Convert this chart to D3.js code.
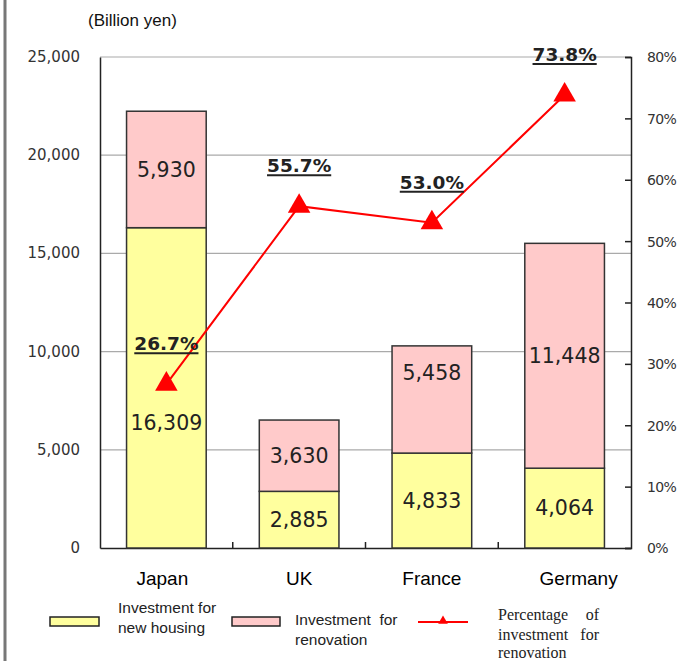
<!DOCTYPE html>
<html>
<head>
<meta charset="utf-8">
<script src="https://cdn.jsdelivr.net/npm/d3@7"></script>
<style>
    body { margin: 0; background: #fff; }
</style>
</head>
<body>
<div id="chart"></div>
<script>
const countries = ["Japan", "UK", "France", "Germany"];
const newHousing = [16309, 2885, 4833, 4064];
const renovation = [5930, 3630, 5458, 11448];
const renovationPct = [26.7, 55.7, 53.0, 73.8];
const leftTicks = [0, 5000, 10000, 15000, 20000, 25000];
const rightTicks = [0, 10, 20, 30, 40, 50, 60, 70, 80];

const width = 689, height = 661;
const margin = {top: 57, right: 58, bottom: 113, left: 100};
const innerW = width - margin.left - margin.right;
const innerH = height - margin.top - margin.bottom;
const gothic = "'DejaVu Sans', Verdana, sans-serif";
const serif = "'Liberation Serif', 'DejaVu Serif', serif";

const svg = d3.select("#chart").append("svg")
    .attr("width", width)
    .attr("height", height)
    .attr("font-family", "Arial, 'Liberation Sans', sans-serif");

// left frame line
svg.append("line")
    .attr("x1", 5).attr("x2", 5)
    .attr("y1", 0).attr("y2", height)
    .attr("stroke", "#777")
    .attr("stroke-width", 3);

const g = svg.append("g")
    .attr("transform", `translate(${margin.left},${margin.top})`);

const x = d3.scaleBand()
    .domain(countries)
    .range([0, innerW])
    .paddingInner(0.4)
    .paddingOuter(0.2);

const y = d3.scaleLinear()
    .domain([0, 25000])
    .range([innerH, 0]);

const yPct = d3.scaleLinear()
    .domain([0, 80])
    .range([innerH, 0]);

// gridlines
g.selectAll(".grid")
    .data(leftTicks.filter(d => d > 0))
    .enter().append("line")
    .attr("class", "grid")
    .attr("x1", 0).attr("x2", innerW)
    .attr("y1", d => y(d)).attr("y2", d => y(d))
    .attr("stroke", "#aaa")
    .attr("stroke-width", 1.2);

// left axis
const yAxis = g.append("g")
    .call(d3.axisLeft(y).tickValues(leftTicks).tickSize(0).tickPadding(20)
        .tickFormat(d3.format(",")));
yAxis.attr("font-family", gothic);
yAxis.select(".domain").attr("stroke", "#222").attr("stroke-width", 1.5);
yAxis.selectAll("text")
    .attr("font-size", 15)
    .attr("fill", "#333")
    .attr("dy", "0.3em");

// right axis
const rAxis = g.append("g")
    .attr("transform", `translate(${innerW},0)`)
    .call(d3.axisRight(yPct).tickValues(rightTicks).tickSize(-6).tickPadding(16)
        .tickFormat(d => d + "%"));
rAxis.attr("font-family", gothic);
rAxis.select(".domain").attr("stroke", "#222").attr("stroke-width", 1.5);
rAxis.selectAll(".tick line").attr("stroke", "#222").attr("stroke-width", 1.5);
rAxis.selectAll("text")
    .attr("font-size", 14)
    .attr("fill", "#333")
    .attr("dy", "0.35em")
    .attr("letter-spacing", "-0.6px");

// bottom axis
const xAxis = g.append("g")
    .attr("transform", `translate(0,${innerH})`)
    .call(d3.axisBottom(x).tickSize(0).tickFormat(""));
xAxis.select(".domain").attr("stroke", "#222").attr("stroke-width", 1.5);
const step = x.step();
g.selectAll(".cat-tick")
    .data(d3.range(1, countries.length))
    .enter().append("line")
    .attr("x1", d => d * step).attr("x2", d => d * step)
    .attr("y1", innerH).attr("y2", innerH - 6)
    .attr("stroke", "#222")
    .attr("stroke-width", 1.5);

// stacked bars
const stackData = countries.map((c, i) => ({country: c, newH: newHousing[i], renov: renovation[i]}));

g.selectAll(".bar-new")
    .data(stackData)
    .enter().append("rect")
    .attr("class", "bar-new")
    .attr("x", d => x(d.country))
    .attr("width", x.bandwidth())
    .attr("y", d => y(d.newH))
    .attr("height", d => y(0) - y(d.newH))
    .attr("fill", "#ffff9e")
    .attr("stroke", "#333")
    .attr("stroke-width", 1.5);

g.selectAll(".bar-renov")
    .data(stackData)
    .enter().append("rect")
    .attr("class", "bar-renov")
    .attr("x", d => x(d.country))
    .attr("width", x.bandwidth())
    .attr("y", d => y(d.newH + d.renov))
    .attr("height", d => y(d.newH) - y(d.newH + d.renov))
    .attr("fill", "#ffcaca")
    .attr("stroke", "#333")
    .attr("stroke-width", 1.5);

// bar value labels (a couple nudged to clear the line)
const newShift = {Japan: 35};
const renovShift = {France: -27};
const fmt = d3.format(",");

g.selectAll(".lbl-new")
    .data(stackData)
    .enter().append("text")
    .attr("x", d => x(d.country) + x.bandwidth() / 2)
    .attr("y", d => (y(0) + y(d.newH)) / 2 + (newShift[d.country] || 0))
    .attr("dy", "0.36em")
    .attr("text-anchor", "middle")
    .attr("font-family", gothic)
    .attr("font-size", 20.5)
    .attr("fill", "#222")
    .text(d => fmt(d.newH));

g.selectAll(".lbl-renov")
    .data(stackData)
    .enter().append("text")
    .attr("x", d => x(d.country) + x.bandwidth() / 2)
    .attr("y", d => (y(d.newH) + y(d.newH + d.renov)) / 2 + (renovShift[d.country] || 0))
    .attr("dy", "0.36em")
    .attr("text-anchor", "middle")
    .attr("font-family", gothic)
    .attr("font-size", 20.5)
    .attr("fill", "#222")
    .text(d => fmt(d.renov));

// percentage line
const pctData = countries.map((c, i) => ({country: c, pct: renovationPct[i]}));
const line = d3.line()
    .x(d => x(d.country) + x.bandwidth() / 2)
    .y(d => yPct(d.pct));

g.append("path")
    .datum(pctData)
    .attr("fill", "none")
    .attr("stroke", "#ff0000")
    .attr("stroke-width", 2)
    .attr("d", line);

const tri = d3.symbol().type(d3.symbolTriangle).size(220);
g.selectAll(".marker")
    .data(pctData)
    .enter().append("path")
    .attr("transform", d => `translate(${x(d.country) + x.bandwidth() / 2},${yPct(d.pct)})`)
    .attr("d", tri)
    .attr("fill", "#ff0000");

const pctLabels = g.selectAll(".pct-lbl")
    .data(pctData)
    .enter().append("g")
    .attr("transform", d => `translate(${x(d.country) + x.bandwidth() / 2},${yPct(d.pct) - 34})`);
pctLabels.append("text")
    .attr("text-anchor", "middle")
    .attr("font-family", gothic)
    .attr("font-size", 18.5)
    .attr("font-weight", "bold")
    .attr("fill", "#222")
    .text(d => d.pct.toFixed(1) + "%");
pctLabels.each(function() {
    const w = d3.select(this).select("text").node().getComputedTextLength();
    d3.select(this).append("line")
        .attr("x1", -w / 2).attr("x2", w / 2)
        .attr("y1", 3).attr("y2", 3)
        .attr("stroke", "#222")
        .attr("stroke-width", 2);
});

// category labels
const catShift = {Japan: -4, Germany: 14};
g.selectAll(".cat-lbl")
    .data(countries)
    .enter().append("text")
    .attr("x", d => x(d) + x.bandwidth() / 2 + (catShift[d] || 0))
    .attr("y", innerH + 37)
    .attr("text-anchor", "middle")
    .attr("font-size", 19)
    .attr("fill", "#000")
    .text(d => d);

// unit title
svg.append("text")
    .attr("x", 88)
    .attr("y", 26)
    .attr("font-size", 17)
    .attr("fill", "#111")
    .text("(Billion yen)");

// legend
const legend = svg.append("g");
legend.append("rect")
    .attr("x", 50).attr("y", 617).attr("width", 49).attr("height", 9)
    .attr("fill", "#ffff9e").attr("stroke", "#222").attr("stroke-width", 1.5);
legend.append("text")
    .attr("x", 118).attr("y", 613).attr("font-size", 15.5).attr("fill", "#222")
    .selectAll("tspan").data(["Investment for", "new housing"]).enter().append("tspan")
    .attr("x", 118).attr("dy", (d, i) => i ? 20 : 0).text(d => d);

legend.append("rect")
    .attr("x", 232).attr("y", 617).attr("width", 48).attr("height", 9)
    .attr("fill", "#ffcaca").attr("stroke", "#222").attr("stroke-width", 1.5);
legend.append("text")
    .attr("x", 295).attr("y", 625).attr("font-size", 15.5).attr("fill", "#222")
    .attr("style", "white-space: pre")
    .selectAll("tspan").data(["Investment  for", "renovation"]).enter().append("tspan")
    .attr("x", 295).attr("dy", (d, i) => i ? 20 : 0).text(d => d);

legend.append("line")
    .attr("x1", 418).attr("x2", 468).attr("y1", 622).attr("y2", 622)
    .attr("stroke", "#ff0000").attr("stroke-width", 2);
legend.append("path")
    .attr("transform", "translate(443,621)")
    .attr("d", d3.symbol().type(d3.symbolTriangle).size(40))
    .attr("fill", "#ff0000");

const serifLines = [
    {words: ["Percentage", "of"], y: 620},
    {words: ["investment", "for"], y: 640},
    {words: ["renovation"], y: 658}
];
serifLines.forEach(l => {
    legend.append("text").attr("x", 498).attr("y", l.y)
        .attr("font-family", serif)
        .attr("font-size", 16).attr("fill", "#222").text(l.words[0]);
    if (l.words.length === 2) {
        legend.append("text").attr("x", 599).attr("y", l.y).attr("text-anchor", "end")
            .attr("font-family", serif)
            .attr("font-size", 16).attr("fill", "#222").text(l.words[1]);
    }
});
</script>
</body>
</html>
